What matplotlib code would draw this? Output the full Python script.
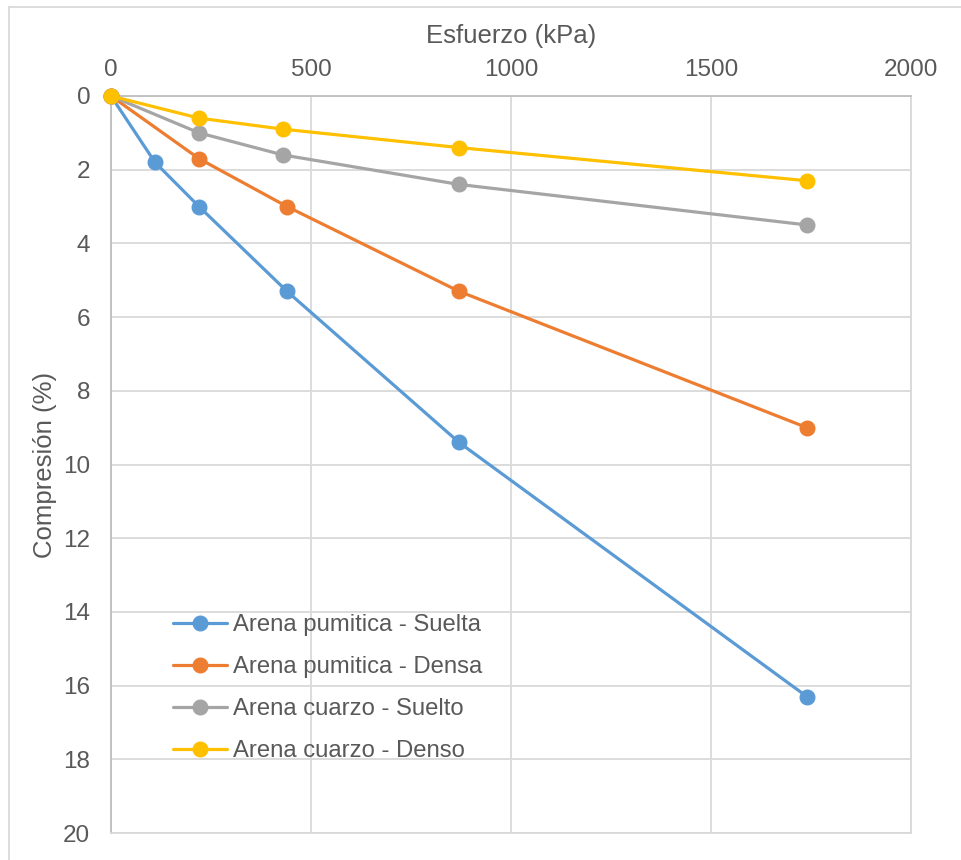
import matplotlib.pyplot as plt
from matplotlib.lines import Line2D

plt.rcParams["font.family"] = ["Liberation Sans", "DejaVu Sans"]

# stress (kPa) and compression (%) per sample
x_pum_suelta = [0, 110, 220, 440, 870, 1740]
y_pum_suelta = [0, 1.8, 3.0, 5.3, 9.4, 16.3]
x_pum_densa = [0, 220, 440, 870, 1740]
y_pum_densa = [0, 1.7, 3.0, 5.3, 9.0]
x_cua_suelto = [0, 220, 430, 870, 1740]
y_cua_suelto = [0, 1.0, 1.6, 2.4, 3.5]
x_cua_denso = [0, 220, 430, 870, 1740]
y_cua_denso = [0, 0.6, 0.9, 1.4, 2.3]

labels = ["Arena pumitica - Suelta", "Arena pumitica - Densa",
          "Arena cuarzo - Suelto", "Arena cuarzo - Denso"]
colors = ["#5B9BD5", "#ED7D31", "#A5A5A5", "#FFC000"]
TXT = "#595959"
GRID = "#D9D9D9"

fig = plt.figure(figsize=(9.61, 8.6), dpi=100)
ax = fig.add_axes([111 / 961, 27 / 860, 800 / 961, 737 / 860])

series = [(x_pum_suelta, y_pum_suelta), (x_pum_densa, y_pum_densa),
          (x_cua_suelto, y_cua_suelto), (x_cua_denso, y_cua_denso)]
for (xs, ys), lab, col in zip(series, labels, colors):
    ax.plot(xs, ys, "-o", color=col, lw=2.3, markersize=10.5, label=lab,
            solid_capstyle="round", clip_on=False, zorder=3)

ax.set_xlim(0, 2000)
ax.set_ylim(20, 0)
ax.set_xticks(range(0, 2001, 500))
ax.set_yticks(range(0, 21, 2))
ax.xaxis.tick_top()
ax.xaxis.set_label_position("top")
ax.tick_params(length=0, labelsize=17.5, colors=TXT)
ax.tick_params(axis="x", pad=11)
ax.tick_params(axis="y", pad=15)
ax.grid(True, color=GRID, lw=1.3)
ax.set_axisbelow(True)
for s in ["right", "bottom"]:
    ax.spines[s].set_color(GRID)
    ax.spines[s].set_linewidth(1.3)
for s in ["left", "top"]:
    ax.spines[s].set_color("#BFBFBF")
    ax.spines[s].set_linewidth(1.3)

ax.set_xlabel("Esfuerzo (kPa)", fontsize=18.5, color=TXT, labelpad=11)
ax.set_ylabel("Compresión (%)", fontsize=18.5, color=TXT, labelpad=4)

leg = ax.legend(loc="upper left", bbox_to_anchor=(0.065, 0.31), frameon=False,
                fontsize=17.2, labelspacing=0.84, handlelength=2.3,
                handletextpad=0.25, borderaxespad=0)
for t in leg.get_texts():
    t.set_color(TXT)

# outer chart frame (left and top edges)
fig.add_artist(Line2D([9 / 961, 9 / 961], [0, 1 - 7 / 860], transform=fig.transFigure,
                      color=GRID, lw=1.3))
fig.add_artist(Line2D([9 / 961, 1], [1 - 7 / 860, 1 - 7 / 860], transform=fig.transFigure,
                      color=GRID, lw=1.3))

fig.savefig("out.png", dpi=100, facecolor="white")
